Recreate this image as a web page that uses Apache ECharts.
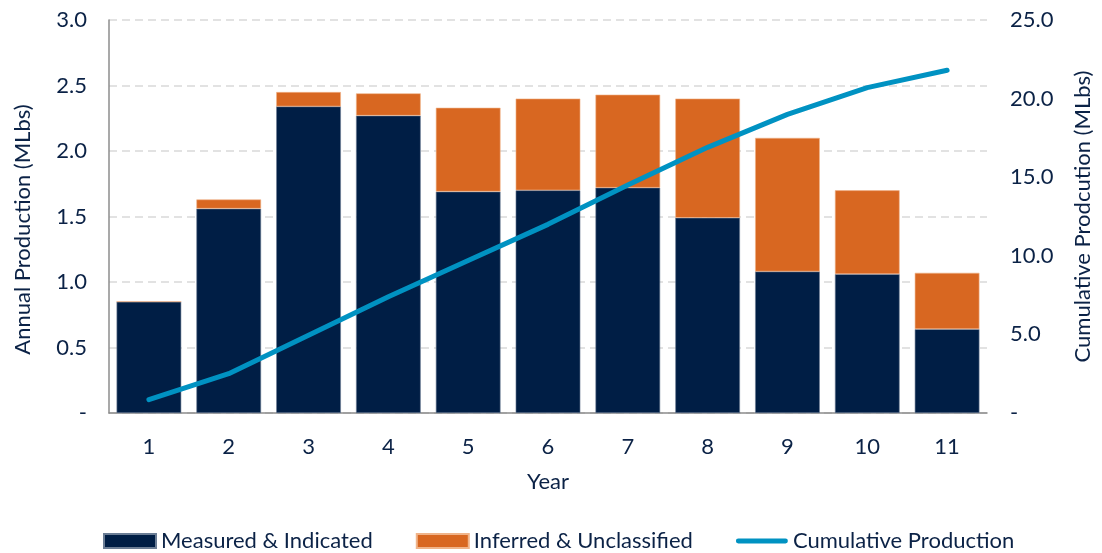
<!DOCTYPE html>
<html>
<head>
<meta charset="utf-8">
<script src="https://cdn.jsdelivr.net/npm/echarts@6/dist/echarts.min.js"></script>
<style>
html,body{margin:0;padding:0;background:#fff;}
#chart{width:1102px;height:553px;}
</style>
</head>
<body>
<div id="chart"></div>
<script>
const years = ['1','2','3','4','5','6','7','8','9','10','11'];
const measuredIndicated = [0.85, 1.56, 2.34, 2.27, 1.69, 1.70, 1.72, 1.49, 1.08, 1.06, 0.64];
const inferredUnclassified = [0.00, 0.07, 0.11, 0.17, 0.64, 0.70, 0.71, 0.91, 1.02, 0.64, 0.43];
const cumulativeProduction = [0.85, 2.5, 4.95, 7.4, 9.7, 12.0, 14.5, 16.9, 19.0, 20.7, 21.8];

const textColor = '#0b2246';
const fontFamily = 'Lato, "Open Sans", sans-serif';
const fs = 22;

const chart = echarts.init(document.getElementById('chart'), null, {renderer:'canvas'});
chart.setOption({
  animation:false,
  textStyle:{fontFamily:fontFamily, color:textColor},
  grid:{left:109, right:109, top:20, bottom:140, containLabel:false},
  legend:{
    top:525, left:98,
    itemWidth:52, itemHeight:14, itemGap:43,
    textStyle:{fontSize:fs, color:textColor, fontFamily:fontFamily},
    data:[
      {name:'Measured & Indicated', icon:'rect'},
      {name:'Inferred & Unclassified', icon:'rect'},
      {name:'Cumulative Production',
       icon:'path://M2.5,0 H51.5 A2.5,2.5 0 0 1 51.5,5 H2.5 A2.5,2.5 0 0 1 2.5,0 Z'}
    ]
  },
  xAxis:{
    type:'category', data:years,
    name:'Year', nameLocation:'middle', nameGap:58,
    nameTextStyle:{fontSize:fs, color:textColor},
    axisLine:{lineStyle:{color:'#8c8c8c', width:1.5}},
    axisTick:{show:false},
    axisLabel:{fontSize:fs, color:textColor, margin:23}
  },
  yAxis:[
    {
      type:'value', min:0, max:3, interval:0.5,
      name:'Annual Production (MLbs)', nameLocation:'middle', nameGap:75,
      nameTextStyle:{fontSize:fs, color:textColor, padding:[0,26,0,0]},
      axisLine:{show:true, lineStyle:{color:'#8c8c8c', width:1.5}},
      axisTick:{show:false},
      axisLabel:{fontSize:fs, color:textColor, margin:22,
        formatter:v=> v===0 ? '-' : v.toFixed(1)},
      splitLine:{lineStyle:{color:'#d9d9d9', type:[8,5], width:1.5}}
    },
    {
      type:'value', min:0, max:25, interval:5,
      name:'Cumulative Prodcution (MLbs)', nameLocation:'middle', nameGap:85,
      nameTextStyle:{fontSize:fs, color:textColor},
      axisLine:{show:false},
      axisTick:{show:false},
      axisLabel:{fontSize:fs, color:textColor, margin:23,
        formatter:v=> v===0 ? '-' : v.toFixed(1)},
      splitLine:{show:false}
    }
  ],
  series:[
    {
      name:'Measured & Indicated', type:'bar', stack:'a',
      data:measuredIndicated, barCategoryGap:'19%',
      itemStyle:{color:'#001e45', borderColor:'#6b7d95', borderWidth:0.6}
    },
    {
      name:'Inferred & Unclassified', type:'bar', stack:'a',
      data:inferredUnclassified,
      itemStyle:{color:'#d86721', borderColor:'#f0b48a', borderWidth:0.6}
    },
    {
      name:'Cumulative Production', type:'line', yAxisIndex:1,
      data:cumulativeProduction, symbol:'none', showSymbol:false,
      lineStyle:{color:'#0092c2', width:5, cap:'round', join:'round'},
      itemStyle:{color:'#0092c2'}
    }
  ]
});
</script>
</body>
</html>
